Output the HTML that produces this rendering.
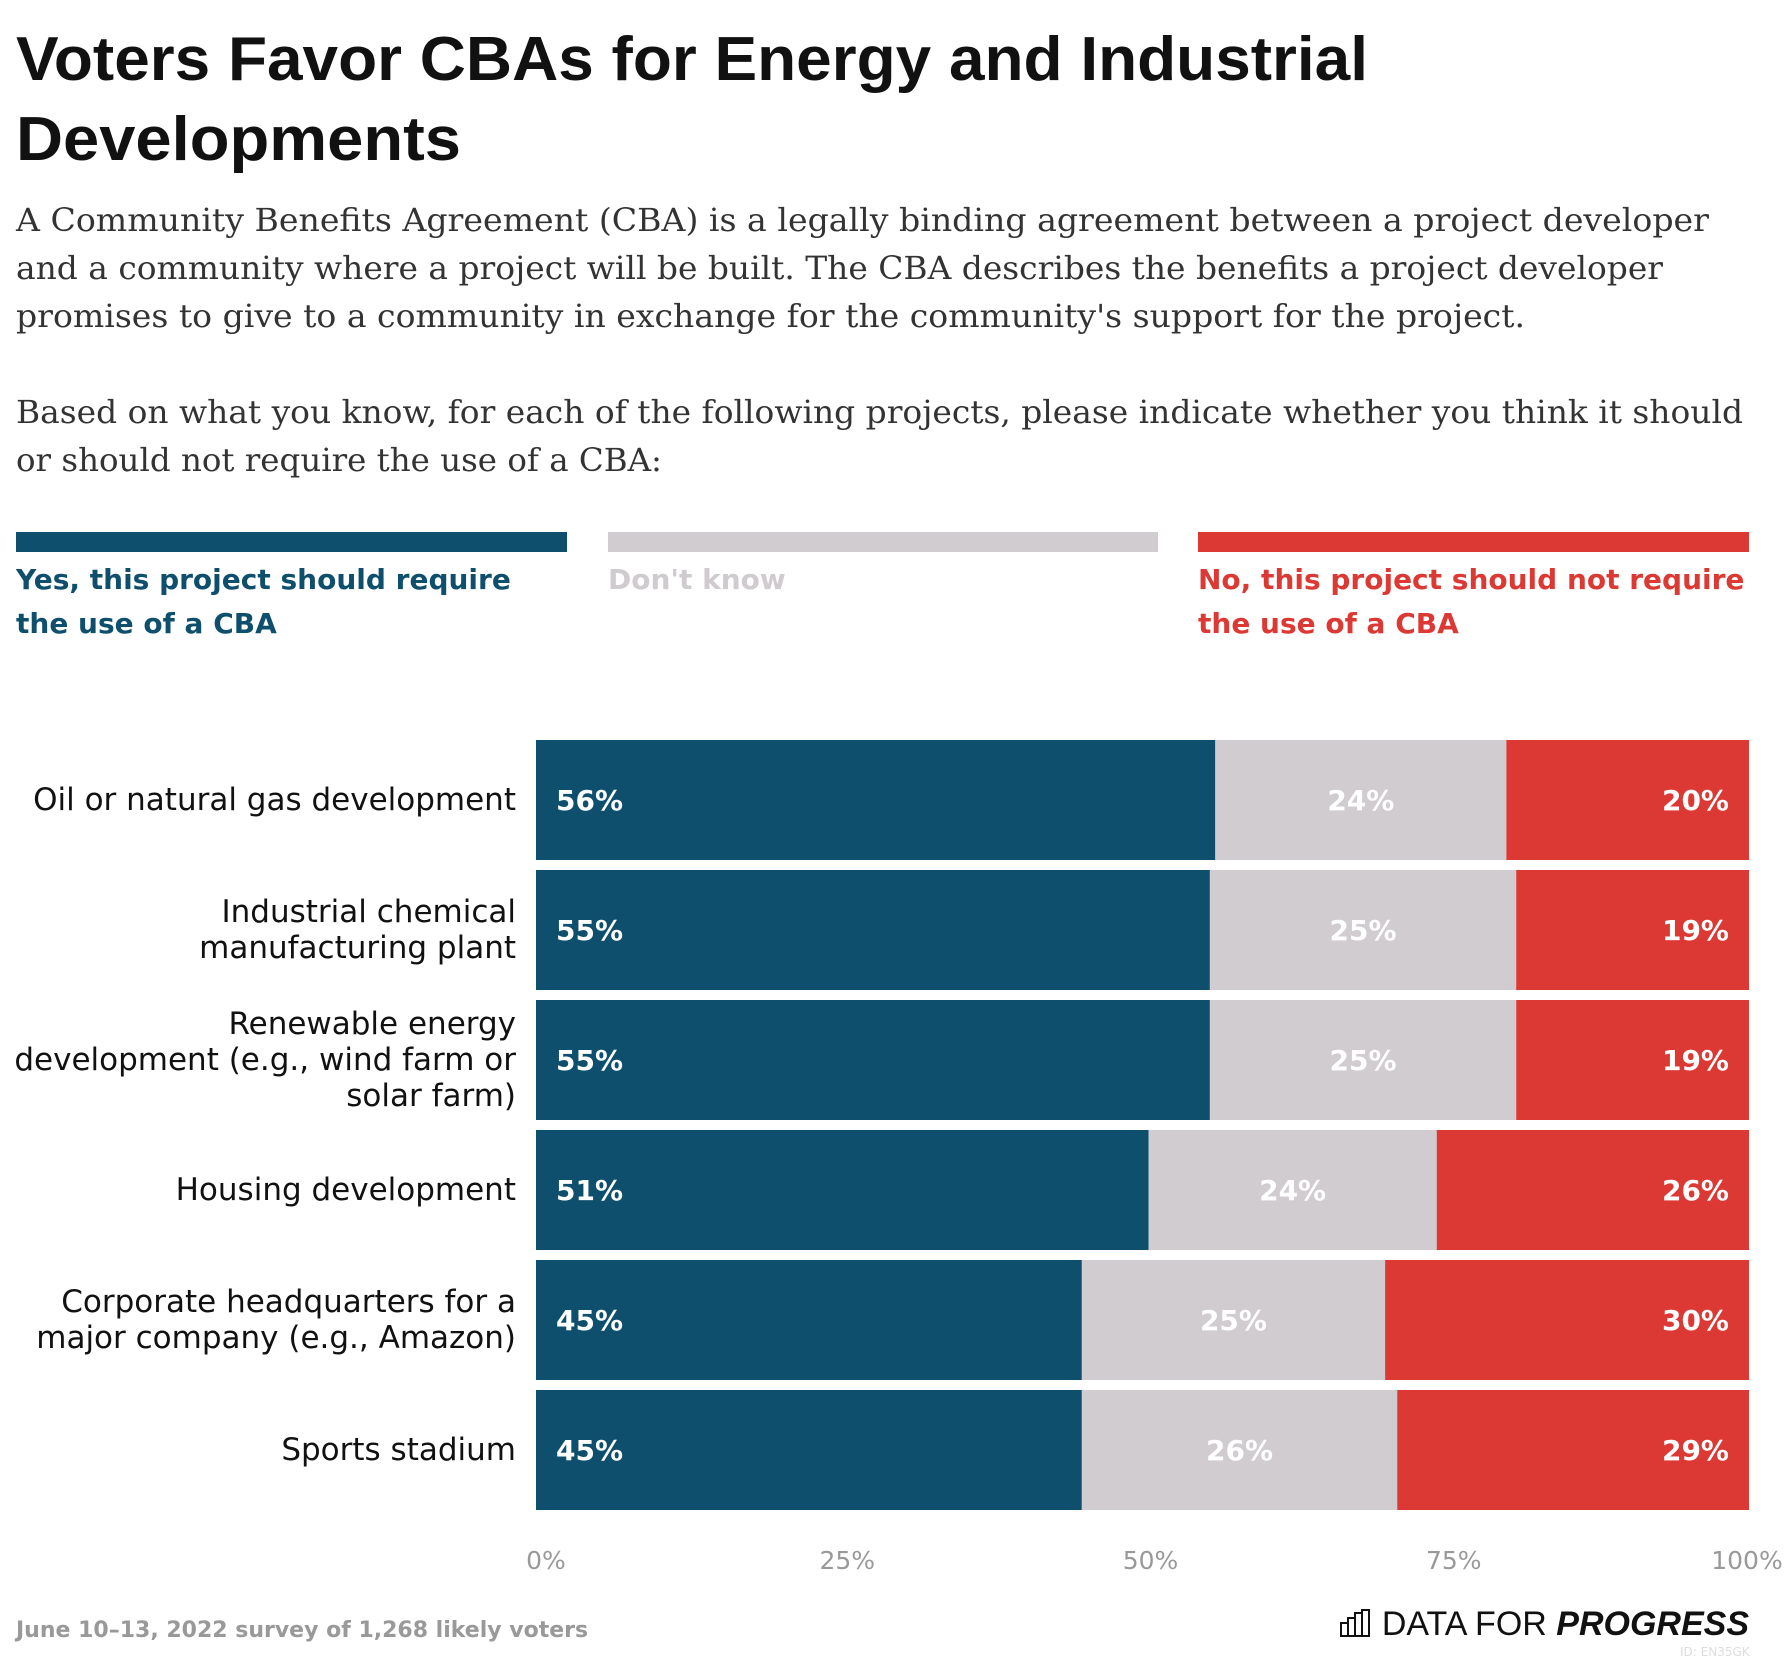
<!DOCTYPE html>
<html><head><meta charset="utf-8">
<style>
body{margin:0;background:#fff;width:1790px;height:1660px;overflow:hidden;font-family:"DejaVu Sans",sans-serif;}
.abs{position:absolute;}
.leg{font-size:28px;font-weight:bold;line-height:44px;white-space:nowrap;font-family:"DejaVu Sans",sans-serif;}
</style></head>
<body>
<svg class="abs" style="left:0;top:0" width="1790" height="500">
<g font-family="Liberation Sans, sans-serif" font-weight="bold" font-size="62" fill="#111">
<text x="16" y="80" textLength="1352" lengthAdjust="spacingAndGlyphs">Voters Favor CBAs for Energy and Industrial</text>
<text x="16" y="160" textLength="445" lengthAdjust="spacingAndGlyphs">Developments</text>
</g>
<g font-family="DejaVu Serif, serif" font-size="32" fill="#333">
<text x="16" y="231" textLength="1693" lengthAdjust="spacingAndGlyphs">A Community Benefits Agreement (CBA) is a legally binding agreement between a project developer</text>
<text x="16" y="279" textLength="1647" lengthAdjust="spacingAndGlyphs">and a community where a project will be built. The CBA describes the benefits a project developer</text>
<text x="16" y="327" textLength="1509" lengthAdjust="spacingAndGlyphs">promises to give to a community in exchange for the community's support for the project.</text>
</g>
<g font-family="DejaVu Serif, serif" font-size="32" fill="#333">
<text x="16" y="423" textLength="1727" lengthAdjust="spacingAndGlyphs">Based on what you know, for each of the following projects, please indicate whether you think it should</text>
<text x="16" y="471" textLength="646" lengthAdjust="spacingAndGlyphs">or should not require the use of a CBA:</text>
</g>
</svg>

<div class="abs" style="left:16px;top:532px;width:551px;height:20px;background:#0d4f6c"></div>
<div class="abs leg" style="left:16px;top:558px;color:#0d4f6c">Yes, this project should require<br>the use of a CBA</div>
<div class="abs" style="left:608px;top:532px;width:550px;height:20px;background:#d0ccd0"></div>
<div class="abs leg" style="left:608px;top:558px;color:#cfcbcf">Don't know</div>
<div class="abs" style="left:1198px;top:532px;width:551px;height:20px;background:#dc3934"></div>
<div class="abs leg" style="left:1198px;top:558px;color:#dc3934">No, this project should not require<br>the use of a CBA</div>

<svg class="abs" style="left:0;top:0" width="1790" height="1660" id="chart"></svg>

<div class="abs" style="left:16px;top:1618px;font-size:22px;font-weight:bold;color:#999;white-space:nowrap">June 10–13, 2022 survey of 1,268 likely voters</div>
<div class="abs" style="right:41px;top:1605px;font-size:34px;color:#111;white-space:nowrap;font-family:'Liberation Sans',sans-serif">
<svg width="32" height="28" style="vertical-align:-2px"><rect x="1" y="14" width="7" height="13" fill="none" stroke="#111" stroke-width="2"/><rect x="8" y="9" width="7" height="18" fill="none" stroke="#111" stroke-width="2"/><rect x="15" y="4" width="7" height="23" fill="none" stroke="#111" stroke-width="2"/><rect x="22" y="1" width="7" height="26" fill="none" stroke="#111" stroke-width="2"/></svg>
DATA FOR <b><i>PROGRESS</i></b></div>
<div class="abs" style="left:1680px;top:1645px;font-size:12px;color:#ddd">ID: EN35GK</div>

<script>
const categories=["Oil or natural gas development","Industrial chemical|manufacturing plant","Renewable energy|development (e.g., wind farm or|solar farm)","Housing development","Corporate headquarters for a|major company (e.g., Amazon)","Sports stadium"];
const yesVals=[56,55,55,51,45,45];
const dkVals=[24,25,25,24,25,26];
const noVals=[20,19,19,26,30,29];
const tickVals=[0,25,50,75,100];
const tickLabels=["0%","25%","50%","75%","100%"];

const svg=document.getElementById('chart');
const NS="http://www.w3.org/2000/svg";
const x0=536,x1=1749,top0=740,pitch=130,bh=120;
const xs=v=>x0+(x1-x0)*v/100;
const yb=i=>top0+i*pitch;
function mk(tag,attrs){const e=document.createElementNS(NS,tag);for(const k in attrs)e.setAttribute(k,attrs[k]);svg.appendChild(e);return e;}
const colors=["#0d4f6c","#d0ccd0","#dc3934"];
categories.forEach((c,i)=>{
  const vals=[yesVals[i],dkVals[i],noVals[i]];
  const tot=vals[0]+vals[1]+vals[2];
  let cum=0;
  const names=["yes","dontknow","no"];
  vals.forEach((v,j)=>{
    const p0=cum/tot*100,p1=(cum+v)/tot*100;cum+=v;
    const r=mk('rect',{x:xs(p0),y:yb(i),width:xs(p1)-xs(p0),height:bh,fill:colors[j]});
    
    
    let tx,anchor;
    if(j==0){tx=xs(p0)+20;anchor='start';}else if(j==1){tx=(xs(p0)+xs(p1))/2;anchor='middle';}else{tx=xs(p1)-20;anchor='end';}
    const t=mk('text',{x:tx,y:yb(i)+bh/2+10,'text-anchor':anchor,'font-size':28,'font-weight':'bold',fill:'#fff','font-family':'DejaVu Sans, sans-serif'});
    t.textContent=v+'%';
    
    
  });
  const lines=c.split('|');
  const lh=36,cy=yb(i)+bh/2;
  const g=mk('text',{x:516,'text-anchor':'end','font-size':31,fill:'#111','font-family':'DejaVu Sans, sans-serif'});
  
  
  lines.forEach((l,k)=>{const ts=document.createElementNS(NS,'tspan');ts.setAttribute('x',516);ts.setAttribute('y',cy+10+(k-(lines.length-1)/2)*lh);ts.textContent=l;g.appendChild(ts);});
});
tickVals.forEach((v,i)=>{
  const t=mk('text',{x:xs(v)+(i==0?10:(i==4?-2:8)),y:1569,'text-anchor':'middle','font-size':25,fill:'#999','font-family':'DejaVu Sans, sans-serif'});
  t.textContent=tickLabels[i];
  
  
});
</script>
</body></html>
